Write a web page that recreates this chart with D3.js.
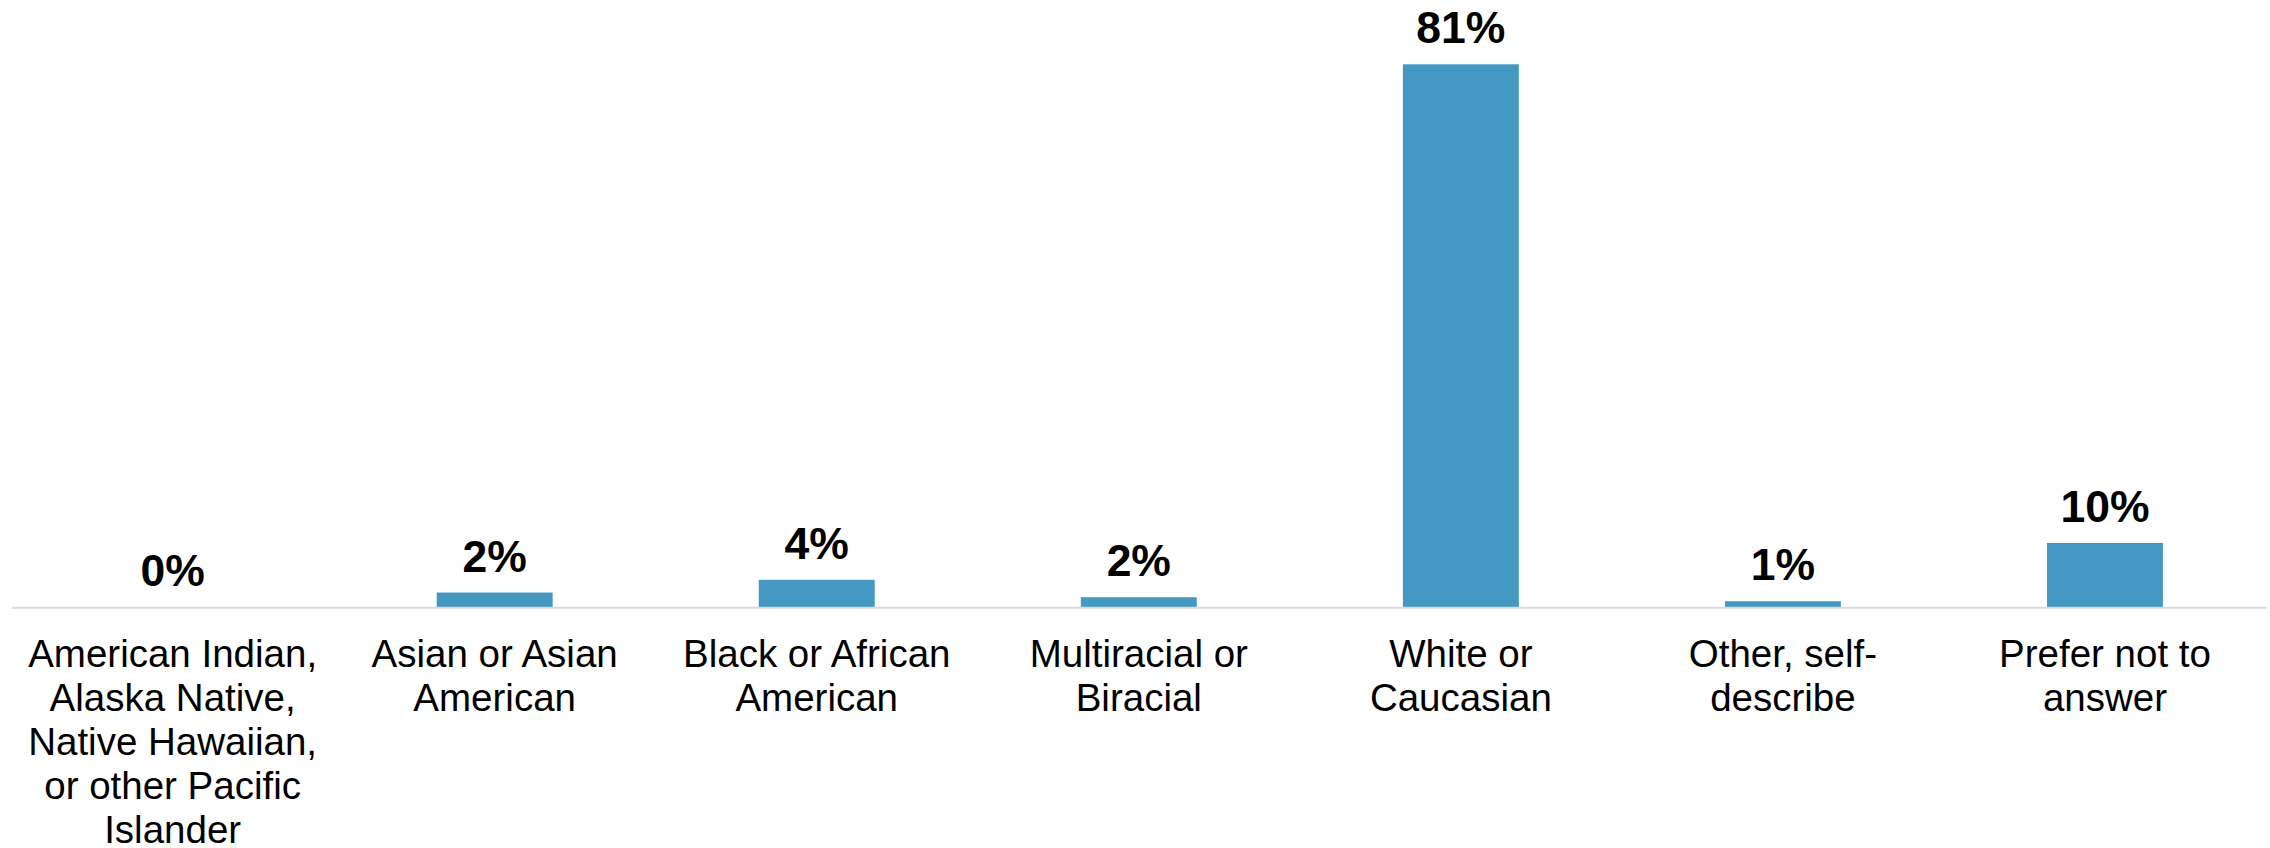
<!DOCTYPE html>
<html>
<head>
<meta charset="utf-8">
<script src="https://cdn.jsdelivr.net/npm/d3@7"></script>
<style>
  html, body { margin: 0; padding: 0; background: #ffffff; }
  svg { display: block; }
</style>
</head>
<body>
<svg id="chart" width="2270" height="848"></svg>
<script>
// ---- data ----
const categories = [
  "American Indian, Alaska Native, Native Hawaiian, or other Pacific Islander",
  "Asian or Asian American",
  "Black or African American",
  "Multiracial or Biracial",
  "White or Caucasian",
  "Other, self-describe",
  "Prefer not to answer"
];
const categoryLines = [
  ["American Indian,", "Alaska Native,", "Native Hawaiian,", "or other Pacific", "Islander"],
  ["Asian or Asian", "American"],
  ["Black or African", "American"],
  ["Multiracial or", "Biracial"],
  ["White or", "Caucasian"],
  ["Other, self-", "describe"],
  ["Prefer not to", "answer"]
];
const values = [0, 2.2, 4.1, 1.5, 81, 0.9, 9.6];
const valueLabels = ["0%", "2%", "4%", "2%", "81%", "1%", "10%"];

// ---- layout ----
const svg = d3.select("#chart");
const plotLeft = 11.6, plotRight = 2266, plotBase = 607.3, plotTop = 64.3;

const x = d3.scaleBand()
  .domain(categories)
  .range([plotLeft, plotRight])
  .paddingInner(0.64)
  .paddingOuter(0.32);

const y = d3.scaleLinear()
  .domain([0, 81])
  .range([plotBase, plotTop]);

// bars
svg.append("g")
  .selectAll("rect")
  .data(values)
  .join("rect")
  .attr("x", (d, i) => x(categories[i]))
  .attr("y", d => y(d))
  .attr("width", x.bandwidth())
  .attr("height", d => plotBase - y(d))
  .attr("fill", "#4399C1");

// axis line
const xAxis = d3.axisBottom(x).tickSize(0).tickFormat("");
const axisG = svg.append("g")
  .attr("transform", `translate(0,${plotBase})`)
  .call(xAxis);
axisG.select(".domain")
  .attr("stroke", "#D9D9D9")
  .attr("stroke-width", 2);

// value labels
svg.append("g")
  .selectAll("text")
  .data(values)
  .join("text")
  .attr("x", (d, i) => x(categories[i]) + x.bandwidth() / 2)
  .attr("y", d => y(d) - 21)
  .attr("text-anchor", "middle")
  .attr("font-family", "Liberation Sans, Arial, sans-serif")
  .attr("font-weight", "bold")
  .attr("font-size", "44.5px")
  .attr("fill", "#000000")
  .text((d, i) => valueLabels[i]);

// category labels
const catG = svg.append("g");
categories.forEach((c, i) => {
  const t = catG.append("text")
    .attr("x", x(c) + x.bandwidth() / 2)
    .attr("y", 666.5)
    .attr("text-anchor", "middle")
    .attr("font-family", "Liberation Sans, Arial, sans-serif")
    .attr("font-size", "38.5px")
    .attr("fill", "#000000");
  categoryLines[i].forEach((line, j) => {
    t.append("tspan")
      .attr("x", x(c) + x.bandwidth() / 2)
      .attr("dy", j === 0 ? 0 : 44.2)
      .text(line);
  });
});
</script>
</body>
</html>
